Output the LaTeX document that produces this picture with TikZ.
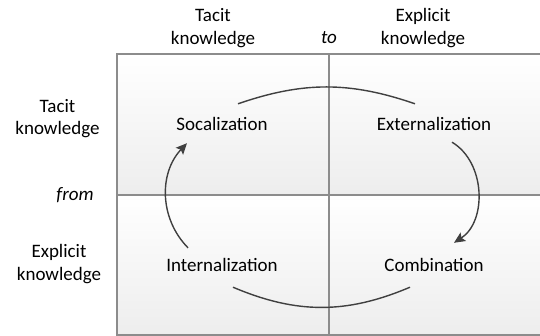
\documentclass[tikz,border=0pt]{standalone}
\usepackage{fontspec}
\setmainfont{Carlito}
\usetikzlibrary{arrows.meta,positioning}
\definecolor{gridgray}{HTML}{8C8C8C}
\definecolor{arcgray}{HTML}{404040}
\tikzset{cell/.style={top color=white,bottom color=black!7,draw=none}}

\begin{document}
\begin{tikzpicture}[x=1pt,y=-1pt,
        lab/.style={font=\fontsize{19}{22.3}\selectfont,inner sep=0pt,align=center,anchor=base},
        mode/.style={font=\fontsize{19}{22.3}\selectfont,inner sep=0pt,text height=13pt,text depth=0pt,anchor=base},
        arc/.style={arcgray,line width=1.4pt},
        arr/.style={arc,-{Stealth[length=11pt,width=10pt,inset=2pt]}}]
                \useasboundingbox (0,0) rectangle (540,336);
                \fill[cell] (117,54) rectangle (329,195);
                \fill[cell] (329,54) rectangle (541,195);
                \fill[cell] (117,195) rectangle (329,335);
                \fill[cell] (329,195) rectangle (541,335);
                \draw[gridgray,line width=1.4pt] (117,54) rectangle (541,335)
                    (329,54) -- (329,335) (117,195) -- (541,195);
                % headings (base = last line)
                \node [lab] (totacit) at (213,44.3) {Tacit\\knowledge};
                \node [lab] (to) at (329,43.5) {\itshape to};
                \node [lab] (toexpl) at (423,44.3) {Explicit\\knowledge};
                \node [lab] (fromtacit) at (57.5,135) {Tacit\\knowledge};
                \node [lab] (from) at (75,200.5) {\itshape from};
                \node [lab] (fromexpl) at (59,280) {Explicit\\knowledge};
                % the four modes
                \node [mode] (soc) at (222,131) {Socalization};
                \node [mode] (ext) at (434,131) {Externalization};
                \node [mode] (int) at (222,272) {Internalization};
                \node [mode] (comb) at (434,272) {Combination};
                \draw [arc] ([xshift=16pt,yshift=14pt]soc.north) to [bend left=19] ([xshift=-19pt,yshift=14pt]ext.north);
                \draw [arr] ([xshift=18pt,yshift=-11pt]ext.south) to [bend left=58] ([xshift=20pt,yshift=16pt]comb.north);
                \draw [arc] ([xshift=-24pt,yshift=-15pt]comb.south) to [bend left=23] ([xshift=11pt,yshift=-15pt]int.south);
                \draw [arr] ([xshift=-34pt,yshift=11pt]int.north) to [bend left=44] ([xshift=-35pt,yshift=-12pt]soc.south);
            \end{tikzpicture}
\end{document}
